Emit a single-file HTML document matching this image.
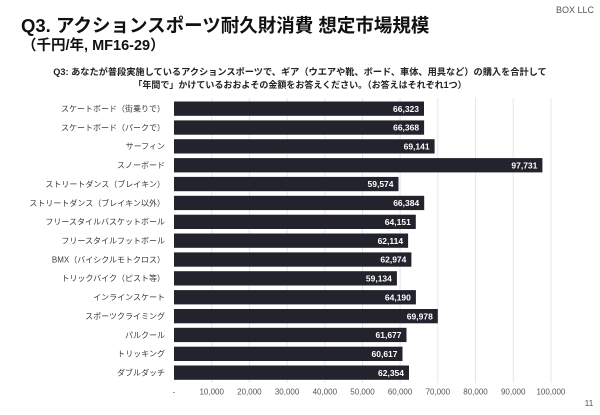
<!DOCTYPE html>
<html><head><meta charset="utf-8"><style>
html,body{margin:0;padding:0;background:#fff;}
svg{display:block;}
text{font-family:"Liberation Sans","Noto Sans CJK JP",sans-serif;}
</style></head><body>
<svg width="600" height="415" viewBox="0 0 600 415" xmlns="http://www.w3.org/2000/svg">
<rect width="600" height="415" fill="#fff"/>
<text x="594" y="13" font-size="9" fill="#555" text-anchor="end">BOX LLC</text>
<text x="21" y="32" font-size="18.5" font-weight="bold" fill="#111">Q3. アクションスポーツ耐久財消費 想定市場規模</text>
<text x="22" y="50" font-size="14.5" font-weight="bold" fill="#111">（千円/年, MF16-29）</text>
<text x="300" y="75" font-size="9.2" font-weight="bold" fill="#222" text-anchor="middle">Q3: あなたが普段実施しているアクションスポーツで、ギア（ウエアや靴、ボード、車体、用具など）の購入を合計して</text>
<text x="300" y="88" font-size="9" font-weight="bold" fill="#222" text-anchor="middle">「年間で」かけているおおよその金額をお答えください。（お答えはそれぞれ1つ）</text>
<g stroke="#e6e6e6" stroke-width="1">
<line x1="211.7" y1="98" x2="211.7" y2="383"/>
<line x1="249.4" y1="98" x2="249.4" y2="383"/>
<line x1="287.1" y1="98" x2="287.1" y2="383"/>
<line x1="324.8" y1="98" x2="324.8" y2="383"/>
<line x1="362.5" y1="98" x2="362.5" y2="383"/>
<line x1="400.1" y1="98" x2="400.1" y2="383"/>
<line x1="437.8" y1="98" x2="437.8" y2="383"/>
<line x1="475.5" y1="98" x2="475.5" y2="383"/>
<line x1="513.2" y1="98" x2="513.2" y2="383"/>
<line x1="550.9" y1="98" x2="550.9" y2="383"/>
</g>
<g fill="#22232d">
<rect x="174" y="101.5" width="250.0" height="14.3"/>
<rect x="174" y="120.4" width="250.1" height="14.3"/>
<rect x="174" y="139.2" width="260.6" height="14.3"/>
<rect x="174" y="158.1" width="368.4" height="14.3"/>
<rect x="174" y="176.9" width="224.5" height="14.3"/>
<rect x="174" y="195.8" width="250.2" height="14.3"/>
<rect x="174" y="214.7" width="241.8" height="14.3"/>
<rect x="174" y="233.5" width="234.1" height="14.3"/>
<rect x="174" y="252.4" width="237.4" height="14.3"/>
<rect x="174" y="271.2" width="222.9" height="14.3"/>
<rect x="174" y="290.1" width="241.9" height="14.3"/>
<rect x="174" y="309.0" width="263.8" height="14.3"/>
<rect x="174" y="327.8" width="232.5" height="14.3"/>
<rect x="174" y="346.7" width="228.5" height="14.3"/>
<rect x="174" y="365.5" width="235.0" height="14.3"/>
</g>
<g font-size="8" fill="#3a3a3a" text-anchor="end">
<text x="165" y="111.5">スケートボード（街乗りで）</text>
<text x="165" y="130.4">スケートボード（パークで）</text>
<text x="165" y="149.2">サーフィン</text>
<text x="165" y="168.1">スノーボード</text>
<text x="165" y="186.9">ストリートダンス（ブレイキン）</text>
<text x="165" y="205.8">ストリートダンス（ブレイキン以外）</text>
<text x="165" y="224.7">フリースタイルバスケットボール</text>
<text x="165" y="243.5">フリースタイルフットボール</text>
<text x="165" y="262.4">BMX（バイシクルモトクロス）</text>
<text x="165" y="281.2">トリックバイク（ピスト等）</text>
<text x="165" y="300.1">インラインスケート</text>
<text x="165" y="319.0">スポーツクライミング</text>
<text x="165" y="337.8">パルクール</text>
<text x="165" y="356.7">トリッキング</text>
<text x="165" y="375.5">ダブルダッチ</text>
</g>
<g font-size="8.5" font-weight="bold" fill="#fff" text-anchor="end">
<text x="419.0" y="111.8">66,323</text>
<text x="419.1" y="130.7">66,368</text>
<text x="429.6" y="149.5">69,141</text>
<text x="537.4" y="168.4">97,731</text>
<text x="393.5" y="187.2">59,574</text>
<text x="419.2" y="206.1">66,384</text>
<text x="410.8" y="225.0">64,151</text>
<text x="403.1" y="243.8">62,114</text>
<text x="406.4" y="262.7">62,974</text>
<text x="391.9" y="281.5">59,134</text>
<text x="410.9" y="300.4">64,190</text>
<text x="432.8" y="319.3">69,978</text>
<text x="401.5" y="338.1">61,677</text>
<text x="397.5" y="357.0">60,617</text>
<text x="404.0" y="375.8">62,354</text>
</g>
<g font-size="8" fill="#555" text-anchor="middle">
<text x="174" y="394.5">-</text>
<text x="211.7" y="394.5">10,000</text>
<text x="249.4" y="394.5">20,000</text>
<text x="287.1" y="394.5">30,000</text>
<text x="324.8" y="394.5">40,000</text>
<text x="362.5" y="394.5">50,000</text>
<text x="400.1" y="394.5">60,000</text>
<text x="437.8" y="394.5">70,000</text>
<text x="475.5" y="394.5">80,000</text>
<text x="513.2" y="394.5">90,000</text>
<text x="550.9" y="394.5">100,000</text>
</g>
<text x="589" y="406" font-size="8.5" fill="#555" text-anchor="middle">11</text>
</svg>
</body></html>
